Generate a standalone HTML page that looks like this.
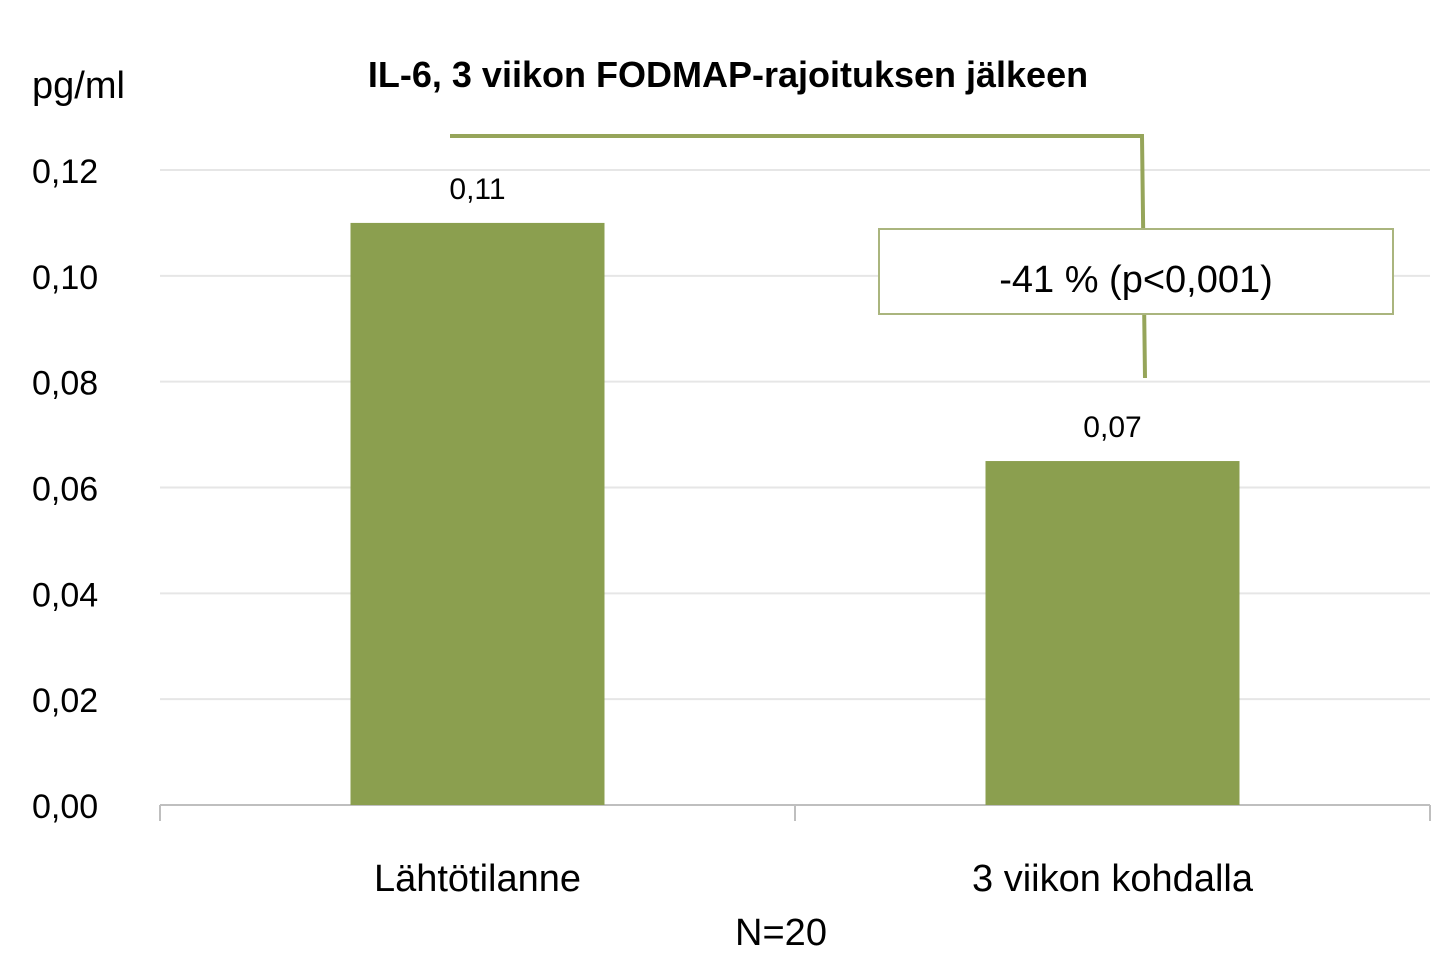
<!DOCTYPE html>
<html><head><meta charset="utf-8"><style>
html,body{margin:0;padding:0;background:#fff;}
svg text{font-family:"Liberation Sans",sans-serif;fill:#000;}
</style></head><body>
<svg width="1456" height="966" viewBox="0 0 1456 966" xmlns="http://www.w3.org/2000/svg">
<g id="grid"></g>
<g id="yt"></g>
<g id="bars"></g>
<text x="32" y="98" font-size="38">pg/ml</text>
<text x="728" y="87" font-size="36" font-weight="bold" text-anchor="middle">IL-6, 3 viikon FODMAP-rajoituksen jälkeen</text>
<polyline points="450,136 1142,136 1145,378" fill="none" stroke="#96a55a" stroke-width="4"/>
<rect x="879" y="229" width="514" height="85" fill="#fff" stroke="#aab57e" stroke-width="2"/>
<text x="1136" y="292" font-size="38" text-anchor="middle">-41 % (p&lt;0,001)</text>
<text x="781" y="945" font-size="38" text-anchor="middle">N=20</text>
</svg>
<script>
const categories=["Lähtötilanne","3 viikon kohdalla"];
const values=[0.110,0.065];
const valueLabels=["0,11","0,07"];
const yTicks=[0,0.02,0.04,0.06,0.08,0.10,0.12];
const yTickLabels=["0,00","0,02","0,04","0,06","0,08","0,10","0,12"];
const NS="http://www.w3.org/2000/svg";
const X0=160,X1=1430,Y0=805,Y1=170,YMAX=0.12;
const y=v=>Y0-(v/YMAX)*(Y0-Y1);
const bw=(X1-X0)/categories.length;
const xc=i=>X0+bw*(i+0.5);
function mk(t,a,p){const e=document.createElementNS(NS,t);for(const k in a)e.setAttribute(k,a[k]);p.appendChild(e);return e;}
const grid=document.getElementById('grid'),yt=document.getElementById('yt'),bars=document.getElementById('bars');
yTicks.forEach((v,i)=>{
  if(v>0){const l=mk('line',{x1:X0,x2:X1,y1:y(v),y2:y(v),stroke:'#e6e6e6','stroke-width':2},grid);
  
  }
  const t=mk('text',{x:32,y:y(v)+13,'font-size':34},yt);t.textContent=yTickLabels[i];
  
  
});
const ax=mk('line',{x1:X0,x2:X1,y1:Y0,y2:Y0,stroke:'#bfbfbf','stroke-width':2},grid);


for(let i=0;i<=categories.length;i++){const tk=mk('line',{x1:X0+bw*i,x2:X0+bw*i,y1:Y0,y2:Y0+16,stroke:'#bfbfbf','stroke-width':2},grid);

}
const barW=254;
values.forEach((v,i)=>{
  const r=mk('rect',{x:xc(i)-barW/2,y:y(v),width:barW,height:Y0-y(v),fill:'#8b9f4f'},bars);
  
  
  const t=mk('text',{x:xc(i),y:y(v)-24,'font-size':30,'text-anchor':'middle'},bars);t.textContent=valueLabels[i];
  
  
  const c=mk('text',{x:xc(i),y:891,'font-size':38,'text-anchor':'middle'},bars);c.textContent=categories[i];
  
  
});
</script>
</body></html>
